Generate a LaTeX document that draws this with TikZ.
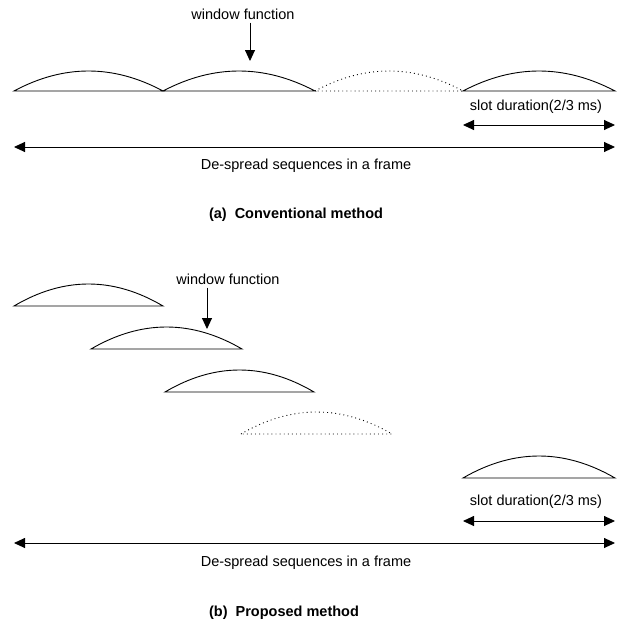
\documentclass[tikz,border=0pt]{standalone}
\usepackage{fontspec}
\setmainfont{Liberation Sans}
\usetikzlibrary{arrows.meta}
\begin{document}
\begin{tikzpicture}[x=1pt,y=-1pt,
  every node/.style={inner sep=0pt,font=\fontsize{14.5}{17}\selectfont},
  title/.style={font=\fontsize{14.5}{17}\selectfont\bfseries},
  line/.style={line width=0.9pt},
  dotline/.style={line width=0.9pt,dash pattern=on 0.9pt off 3.2pt},
  tip/.style={-{Triangle[length=11pt,width=10pt]},line width=0.9pt},
  dtip/.style={{Triangle[length=11pt,width=10pt]}-{Triangle[length=11pt,width=10pt]},line width=0.9pt}
]
\useasboundingbox (0,0) rectangle (624,629);
% arc macro: baseline from (x0,y) to (x1,y) with height h
\newcommand{\winarc}[5][line]{%
  \draw[#1] (#2,#4) .. controls ({#2+(#3-#2)/3},{#4-2*#5*2/3}) and ({#3-(#3-#2)/3},{#4-2*#5*2/3}) .. (#3,#4) -- cycle;}
% ---------- (a) ----------
\winarc{14}{163}{91}{20}
\winarc{163}{315}{91}{20}
\winarc[dotline]{315}{463}{91}{20}
\winarc{463}{615}{91}{20}
\node (wfa) at (243,14) {window function};
\coordinate (wfat) at (250,61);
\draw[tip] (wfa.south -| wfat) ++(0,3) -- (wfat);
\coordinate (sa1) at (463,125);
\coordinate (sa2) at (615,125);
\node (sla) at (536,107) {slot duration(2/3 ms)};
\draw[dtip] (sa1) -- (sa2);
\coordinate (fa1) at (14,147);
\coordinate (fa2) at (615,147);
\draw[dtip] (fa1) -- (fa2);
\node (dsa) at (306,166) {De-spread sequences in a frame};
\node[title] (ta) at (296,215) {(a)\ \ Conventional method};
% ---------- (b) ----------
\winarc{14}{163}{306}{22}
\winarc{91}{242}{349}{22}
\winarc{165}{314}{392}{22}
\winarc[dotline]{241}{392}{434}{22}
\winarc{463}{615}{478}{22}
\node (wfb) at (228,279) {window function};
\coordinate (wfbt) at (207,329);
\draw[tip] (wfb.south -| wfbt) ++(0,3) -- (wfbt);
\coordinate (sb1) at (463,521);
\coordinate (sb2) at (615,521);
\node (slb) at (536,502) {slot duration(2/3 ms)};
\draw[dtip] (sb1) -- (sb2);
\coordinate (fb1) at (14,543);
\coordinate (fb2) at (615,543);
\draw[dtip] (fb1) -- (fb2);
\node (dsb) at (306,563) {De-spread sequences in a frame};
\node[title] (tb) at (284,613) {(b)\ \ Proposed method};
\end{tikzpicture}
\end{document}
